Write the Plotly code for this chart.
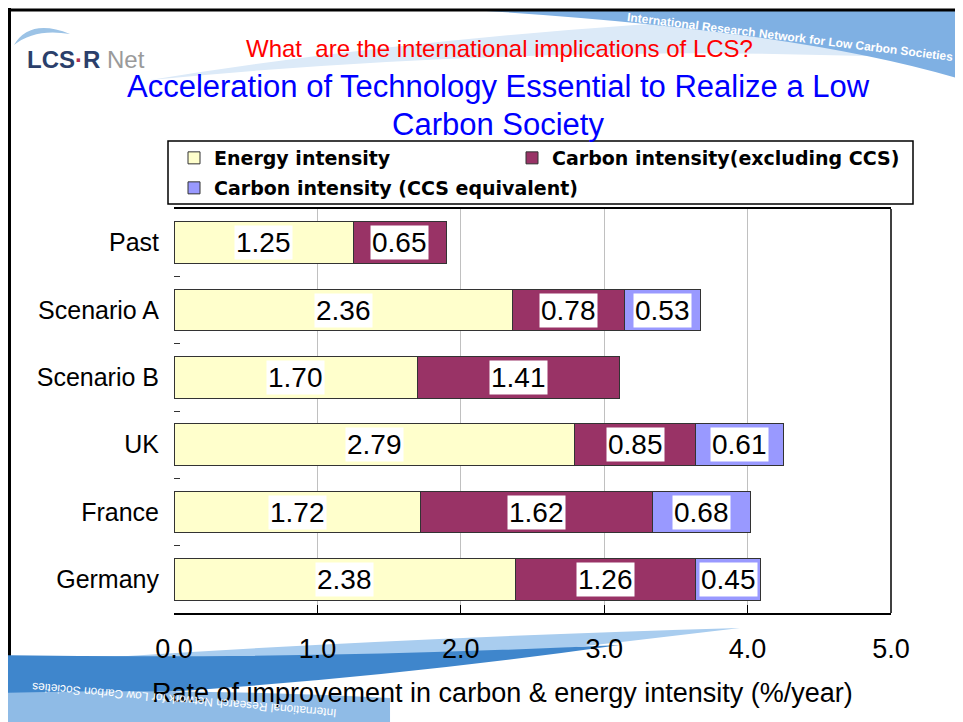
import plotly.graph_objects as go

# ---- data ----
categorias = ["Past", "Scenario A", "Scenario B", "UK", "France", "Germany"]
energia = [1.25, 2.36, 1.70, 2.79, 1.72, 2.38]
carbono = [0.65, 0.78, 1.41, 0.85, 1.62, 1.26]
ccs = [0.0, 0.53, 0.0, 0.61, 0.68, 0.45]
nomes = ["Energy intensity", "Carbon intensity(excluding CCS)",
         "Carbon intensity (CCS equivalent)"]
cores = ["#FFFFCC", "#993366", "#9999FF"]

# ---- geometria (pixels da janela; a página tem 8px de margem no body) ----
OFF = 8
W, H = 963 - OFF, 722 - OFF
L, R, T, B = 174, 891, 209, 613


def px(x):
    return (x - L) / (R - L)


def py(y):
    return (B - y) / (B - T)


def caminho(pts):
    """pts: lista de comandos (cmd, x, y...) em pixels -> path em paper."""
    out = []
    for p in pts:
        cmd, coords = p[0], p[1:]
        par = [f"{px(coords[i]):.4f},{py(coords[i + 1]):.4f}" for i in range(0, len(coords), 2)]
        out.append(cmd + " ".join(par))
    return " ".join(out) + " Z"


fig = go.Figure()
series = [energia, carbono, ccs]
legendas = ["legend", "legend3", "legend2"]
for i, vals in enumerate(series):
    fig.add_trace(go.Bar(
        y=categorias, x=vals, orientation="h", name=nomes[i],
        marker=dict(color=cores[i], line=dict(color="#333333", width=1)),
        legend=legendas[i], hoverinfo="skip"))

fonte = "Arial, Liberation Sans"

# rótulos com fundo branco no meio de cada segmento
anots = []
for j, cat in enumerate(categorias):
    base = 0.0
    for vals in series:
        v = vals[j]
        if v > 0:
            anots.append(dict(x=base + v / 2, y=cat, xref="x", yref="y", text=f"{v:.2f}",
                              bgcolor="white", borderpad=1,
                              font=dict(family=fonte, size=28, color="black")))
        base += v

anots += [
    dict(x=px(499), y=py(48), text="What  are the international implications of LCS?",
         font=dict(family=fonte, size=24, color="#FF0000")),
    dict(x=px(498), y=py(87), text="Acceleration of Technology Essential to Realize a Low",
         font=dict(family=fonte, size=31, color="#0000FF")),
    dict(x=px(498), y=py(124), text="Carbon Society",
         font=dict(family=fonte, size=31, color="#0000FF")),
    dict(x=px(502), y=py(693),
         text="Rate of improvement in carbon &amp; energy intensity (%/year)",
         font=dict(family=fonte, size=27, color="black")),
    dict(x=px(86), y=py(60),
         text="<b><span style='color:#2b3f6b'>LCS</span><span style='color:#b03050'>·</span>"
              "<span style='color:#2b3f6b'>R</span></b><span style='color:#9a9a9a'> Net</span>",
         font=dict(family="Liberation Sans Narrow, Arial", size=24)),
    dict(x=px(790), y=py(37), text="<b>International Research Network for Low Carbon Societies</b>",
         textangle=7, font=dict(family=fonte, size=12, color="white")),
    dict(x=px(185), y=py(700), text="International Research Network for Low Carbon Societies",
         textangle=-175, font=dict(family=fonte, size=12, color="white")),
]
for a in anots:
    a.setdefault("xref", "paper")
    a.setdefault("yref", "paper")
    a.setdefault("showarrow", False)
    a.setdefault("xanchor", "center")
    a.setdefault("yanchor", "middle")

shapes = [
    # faixa azul clara no topo
    dict(type="path", path=caminho([("M", 150, 80), ("Q", 520, 20, 963, 10), ("L", 963, 60),
                                    ("Q", 560, 40, 150, 80)]),
         fillcolor="#dceaf8", line=dict(width=0), layer="below"),
    dict(type="path", path=caminho([("M", 470, 10), ("L", 963, 10), ("L", 963, 80),
                                    ("Q", 800, 30, 470, 10)]),
         fillcolor="#7fb0e3", line=dict(width=0), layer="below"),
    # logo: arco
    dict(type="path", path=caminho([("M", 14, 45), ("Q", 30, 18, 70, 34), ("Q", 35, 28, 14, 45)]),
         fillcolor="#9cc3e6", line=dict(width=0), layer="below"),
    # moldura do slide
    dict(type="line", x0=px(8), x1=px(963), y0=py(10), y1=py(10),
         line=dict(color="black", width=3)),
    dict(type="line", x0=px(9.5), x1=px(9.5), y0=py(8), y1=py(722),
         line=dict(color="black", width=3), layer="below"),
    # swoosh inferior
    dict(type="path", path=caminho([("M", 0, 665), ("Q", 330, 640, 740, 628), ("Q", 380, 672, 0, 700)]),
         fillcolor="#a9cdef", line=dict(width=0), layer="below"),
    dict(type="path", path=caminho([("M", 0, 655), ("Q", 300, 660, 620, 645), ("Q", 300, 690, 0, 700)]),
         fillcolor="#3f86cc", line=dict(width=0), layer="below"),
    dict(type="path", path=caminho([("M", 0, 693), ("Q", 200, 688, 390, 698), ("L", 390, 722),
                                    ("L", 0, 722)]),
         fillcolor="#8fbbe6", line=dict(width=0), layer="below"),
    # caixa da legenda
    dict(type="rect", x0=px(168), x1=px(913), y0=py(141), y1=py(204),
         line=dict(color="black", width=1.5)),
    # borda direita do gráfico
    dict(type="line", x0=1, x1=1, y0=0, y1=1, line=dict(color="black", width=1.5)),
]
for s in shapes:
    s["xref"] = "paper"
    s["yref"] = "paper"

leg_font = dict(family="DejaVu Sans", size=19, color="black", weight="bold")


def leg(x, y):
    return dict(orientation="h", x=px(x), y=py(y), xanchor="left", yanchor="top",
                font=leg_font, bgcolor="rgba(0,0,0,0)")


fig.update_layout(
    width=W, height=H, autosize=False,
    margin=dict(l=L - OFF, r=W - (R - OFF), t=T - OFF, b=H - (B - OFF), pad=0),
    paper_bgcolor="white", plot_bgcolor="white",
    barmode="stack", bargap=0.38,
    showlegend=True,
    legend=leg(174, 139), legend3=leg(512, 139), legend2=leg(174, 169),
    annotations=anots, shapes=shapes,
    xaxis=dict(range=[0, 5], dtick=1, tick0=0, tickformat=".1f", showgrid=True,
               gridcolor="#c0c0c0", gridwidth=1, zeroline=False,
               showline=True, linecolor="black", linewidth=1.5, mirror=True,
               ticks="inside", ticklen=8, tickcolor="black",
               tickfont=dict(family=fonte, size=27, color="black"), ticklabelstandoff=11),
    yaxis=dict(type="category", categoryorder="array", categoryarray=categorias,
               autorange="reversed", showgrid=False, zeroline=False, showline=False,
               ticks="inside", tickson="boundaries", ticklen=6, tickcolor="#333333",
               tickfont=dict(family=fonte, size=25, color="black"), ticklabelstandoff=14),
)

fig.write_html("out.html")
